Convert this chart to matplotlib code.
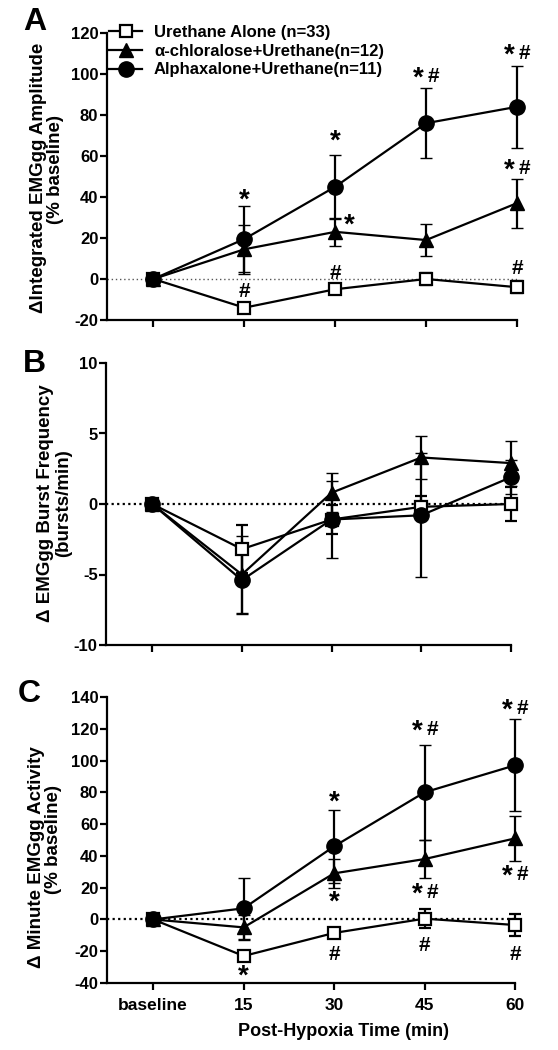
import matplotlib
matplotlib.use("Agg")
import matplotlib.pyplot as plt
from matplotlib.lines import Line2D

plt.rcParams['font.family'] = ['Liberation Sans', 'DejaVu Sans']
plt.rcParams['font.weight'] = 'bold'
plt.rcParams['axes.unicode_minus'] = False

x_labels = ['baseline', '15', '30', '45', '60']
series_names = ['Urethane Alone (n=33)', 'α-chloralose+Urethane(n=12)', 'Alphaxalone+Urethane(n=11)']

# Panel A: Integrated EMGgg amplitude (% baseline)
A_ure = [0, -14, -5, 0, -4]
A_ure_err = [1.5, 2, 2, 3, 3]
A_chl = [0, 14.5, 23, 19, 37]
A_chl_err = [1.5, 12, 7, 8, 12]
A_alp = [0, 19.5, 45, 76, 84]
A_alp_err = [1.5, 16, 15.5, 17, 20]

# Panel B: Burst frequency (bursts/min)
B_ure = [0, -3.2, -1.1, -0.2, 0]
B_ure_err = [0.2, 1.7, 1.0, 0.8, 1.2]
B_chl = [0, -5.0, 0.8, 3.3, 2.9]
B_chl_err = [0.2, 2.7, 1.4, 1.5, 1.6]
B_alp = [0, -5.4, -1.1, -0.8, 1.9]
B_alp_err = [0.2, 2.4, 2.7, 4.4, 1.2]

# Panel C: Minute EMGgg activity (% baseline)
C_ure = [0, -23, -8.5, 0.5, -3.5]
C_ure_err = [1, 3, 3, 6, 7]
C_chl = [0, -5, 29, 38, 51]
C_chl_err = [1, 8, 9, 12, 14]
C_alp = [0, 7, 46, 80, 97]
C_alp_err = [1, 19, 23, 30, 29]

# significance marks: (x index, y value, text)
A_marks = [(1, 40, '*'), (2, 69, '*'), (3, 99.5, '*#'), (4, 111, '*#'), (4, 54.6, '*#'),
           (2.16, 27.8, '*'), (1, -5.4, '#'), (2, 3.4, '#'), (4, 5.9, '#')]
C_marks = [(1, -33.7, '*'), (2, 76, '*'), (2, 13, '*'), (3, 120.5, '*#'), (3, 18, '*#'),
           (3, -15, '#'), (4, 134, '*#'), (4, 29.5, '*#'), (2, -21, '#'), (4, -21, '#')]

W, H = 558, 1050
fig = plt.figure(figsize=(W / 100, H / 100), dpi=100)

def fx(px):
    return px / W

def fy(py):
    return 1 - py / H

def make_ax(left, right, top, bottom):
    return fig.add_axes([fx(left), fy(bottom), fx(right) - fx(left), fy(top) - fy(bottom)])

styles = [dict(marker='s', mfc='white', mec='black', ms=8.0, mew=1.6),
          dict(marker='^', mfc='black', mec='black', ms=10.5, mew=1.0),
          dict(marker='o', mfc='black', mec='black', ms=11.0, mew=1.0)]

STAR_SIZE = 20
HASH_SIZE = 15

def put_mark(ax, xi, yv, t):
    glyphs = list(t)
    n = len(glyphs)
    for k, g in enumerate(glyphs):
        dx = 0 if n == 1 else (-5.5 if k == 0 else 5.5)
        if g == '*':
            size, dy = STAR_SIZE, -0.395 * STAR_SIZE
        else:
            size, dy = HASH_SIZE, -0.35 * HASH_SIZE
        ax.annotate(g, (xi, yv), xytext=(dx, dy), textcoords='offset points',
                    ha='center', va='baseline', fontsize=size, fontweight='bold',
                    annotation_clip=False)

def draw_panel(ax, data, ylim, yticks, zero_style, marks, show_xlabels):
    xs = list(range(len(x_labels)))
    ax.axhline(0, **zero_style, zorder=1)
    for (vals, errs), st in zip(data, styles):
        ax.errorbar(xs, vals, yerr=errs, color='black', lw=1.6, elinewidth=1.6,
                    capsize=4.5, capthick=1.6, clip_on=False, zorder=3, **st)
    ax.set_xlim(-0.515, 4.0)
    ax.set_ylim(*ylim)
    ax.set_yticks(yticks)
    ax.set_xticks(xs)
    if show_xlabels:
        ax.set_xticklabels(x_labels, fontsize=12.5, fontweight='bold')
    else:
        ax.set_xticklabels([])
    for lab in ax.get_yticklabels():
        lab.set_fontweight('bold')
    ax.tick_params(axis='both', direction='out', length=5, width=1.6)
    ax.tick_params(axis='y', pad=1, labelsize=12)
    ax.tick_params(axis='x', pad=6)
    for s in ['top', 'right']:
        ax.spines[s].set_visible(False)
    for s in ['left', 'bottom']:
        ax.spines[s].set_linewidth(1.6)
    for (xi, yv, t) in marks:
        put_mark(ax, xi, yv, t)

axA = make_ax(106.6, 517, 33, 320)
draw_panel(axA, [(A_ure, A_ure_err), (A_chl, A_chl_err), (A_alp, A_alp_err)],
           (-20, 120), range(-20, 121, 20),
           dict(color='#555555', lw=1.0, ls=(0, (1, 2))), A_marks, False)

axB = make_ax(106, 511, 363, 645)
draw_panel(axB, [(B_ure, B_ure_err), (B_chl, B_chl_err), (B_alp, B_alp_err)],
           (-10, 10), [-10, -5, 0, 5, 10],
           dict(color='black', lw=1.6, ls=(0, (1, 1.5))), [], False)

axC = make_ax(106.6, 515, 697, 983)
draw_panel(axC, [(C_ure, C_ure_err), (C_chl, C_chl_err), (C_alp, C_alp_err)],
           (-40, 140), range(-40, 141, 20),
           dict(color='black', lw=1.6, ls=(0, (1, 1.5))), C_marks, True)

# legend
handles = [Line2D([], [], color='black', lw=1.6, **st) for st in styles]
fig.legend(handles, series_names, loc='upper left', bbox_to_anchor=(fx(109), fy(25)),
           bbox_transform=fig.transFigure, frameon=False,
           prop=dict(weight='bold', size=12), borderpad=0, borderaxespad=0,
           handlelength=2.0, handletextpad=0.7, labelspacing=0.22)

# y labels
ylab = dict(rotation=90, ha='center', va='center', fontsize=13.5, fontweight='bold')
fig.text(fx(39), fy(178), 'ΔIntegrated EMGgg Amplitude', **ylab)
fig.text(fx(55), fy(170), '(% baseline)', **ylab)
fig.text(fx(46), fy(503), 'Δ EMGgg Burst Frequency', **ylab)
fig.text(fx(64), fy(503), '(bursts/min)', **ylab)
fig.text(fx(37), fy(857), 'Δ Minute EMGgg Activity', **ylab)
fig.text(fx(53), fy(840), '(% baseline)', **ylab)

fig.text(fx(343), fy(1031), 'Post-Hypoxia Time (min)', ha='center', va='center',
         fontsize=13, fontweight='bold')

# panel letters
pl = dict(ha='center', va='center', fontsize=23, fontweight='bold')
fig.text(fx(35), fy(22), 'A', **pl)
fig.text(fx(34), fy(364), 'B', **pl)
fig.text(fx(29), fy(694), 'C', **pl)

fig.savefig('out.png', dpi=100)
